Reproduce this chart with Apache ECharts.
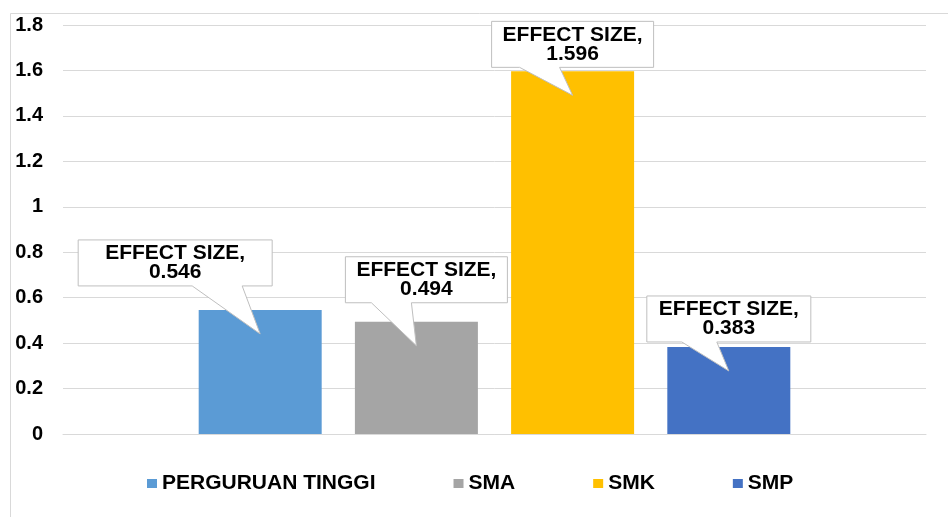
<!DOCTYPE html>
<html>
<head>
<meta charset="utf-8">
<script src="https://cdn.jsdelivr.net/npm/echarts@6/dist/echarts.min.js"></script>
<style>
  html, body { margin: 0; padding: 0; background: #fff; }
  #chart { width: 948px; height: 517px; }
</style>
</head>
<body>
<div id="chart"></div>
<script>
const seriesNames = ['PERGURUAN TINGGI', 'SMA', 'SMK', 'SMP']
const effectSizes = [0.546, 0.494, 1.596, 0.383]
const barColors = ['#5B9BD5', '#A5A5A5', '#FFC000', '#4472C4']
const yTicks = [0, 0.2, 0.4, 0.6, 0.8, 1, 1.2, 1.4, 1.6, 1.8]

// callout placement, relative to each bar top
const calloutLayout = [
  { dx: -85, w: 194, lift: 24, t0: -68, t1: -18 },
  { dx: 10, w: 162, lift: 19, t0: -45, t1: -5 },
  { dx: 0, w: 162, lift: 4, t0: -53, t1: -13 },
  { dx: 0, w: 164, lift: 5, t0: -47, t1: -12 }
]

const barWidth = 123
const barGap = 0.27
const fontFamily = '"Liberation Sans", Arial, sans-serif'

const chart = echarts.init(document.getElementById('chart'))

const bars = seriesNames.map((name, i) => ({
  name: name,
  type: 'bar',
  barWidth: barWidth,
  barGap: (barGap * 100) + '%',
  data: [effectSizes[i]],
  itemStyle: { color: barColors[i] }
}))

function renderCallout(params, api) {
  const i = params.dataIndex
  const lay = calloutLayout[i]
  const v = api.value(1)
  const pt = api.coord([0, v])
  const step = barWidth * (1 + barGap)
  const bx = pt[0] + (i - 1.5) * step
  const by = pt[1]
  const h = 46
  const cx = bx + lay.dx
  const L = cx - lay.w / 2, R = cx + lay.w / 2
  const B = by - lay.lift, T = B - h
  const ax = bx, ay = by + 24
  return {
    type: 'group',
    children: [
      {
        type: 'polygon',
        shape: { points: [[L, T], [R, T], [R, B], [ax + lay.t1, B], [ax, ay], [ax + lay.t0, B], [L, B]] },
        style: { fill: '#fff', stroke: '#bfbfbf', lineWidth: 1 }
      },
      {
        type: 'text',
        x: cx,
        y: (T + B) / 2,
        style: {
          text: 'EFFECT SIZE,\n' + String(v),
          font: 'bold 21px ' + fontFamily,
          align: 'center',
          verticalAlign: 'middle',
          lineHeight: 19,
          fill: '#000'
        }
      }
    ]
  }
}

chart.setOption({
  animation: false,
  backgroundColor: '#fff',
  graphic: [{
    type: 'rect',
    left: 8,
    top: 11,
    shape: { width: 960, height: 520 },
    style: { fill: 'none', stroke: '#d9d9d9', lineWidth: 1 },
    silent: true
  }],
  grid: { left: 63, right: 22, top: 25, bottom: 83 },
  legend: {
    data: seriesNames,
    left: 142,
    top: 468,
    itemWidth: 10,
    itemHeight: 9,
    itemGap: 78,
    icon: 'rect',
    textStyle: { color: '#000', fontWeight: 'bold', fontSize: 21, fontFamily: fontFamily }
  },
  xAxis: {
    type: 'category',
    data: [''],
    axisLine: { lineStyle: { color: '#d9d9d9' } },
    axisTick: { show: false },
    axisLabel: { show: false }
  },
  yAxis: {
    type: 'value',
    min: yTicks[0],
    max: yTicks[yTicks.length - 1],
    interval: 0.2,
    axisLine: { show: false },
    axisTick: { show: false },
    axisLabel: {
      margin: 20,
      color: '#000',
      fontWeight: 'bold',
      fontSize: 20,
      fontFamily: fontFamily
    },
    splitLine: { lineStyle: { color: '#d9d9d9', width: 1 } }
  },
  series: bars.concat([{
    type: 'custom',
    name: 'callouts',
    clip: false,
    z: 5,
    encode: { x: 0, y: 1 },
    data: effectSizes.map(v => [0, v]),
    renderItem: renderCallout
  }])
})
</script>
</body>
</html>
